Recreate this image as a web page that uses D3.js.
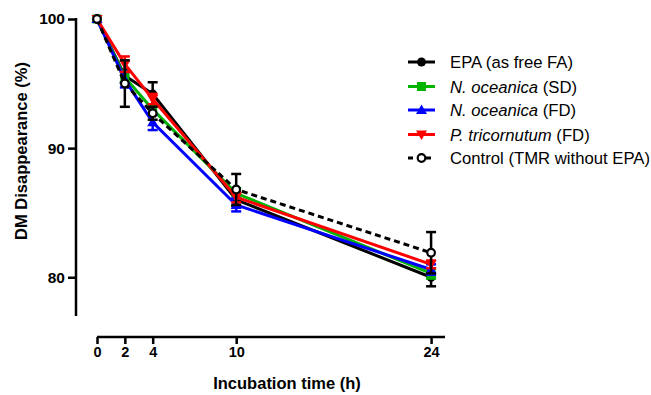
<!DOCTYPE html>
<html><head><meta charset="utf-8">
<script src="https://cdn.jsdelivr.net/npm/d3@7"></script>
<style>body{margin:0;background:#fff}svg{display:block}</style>
</head><body><svg id="c" width="651" height="395"></svg>
<script>
const times = [0, 2, 4, 10, 24];
const xTicks = [0, 2, 4, 10, 24];
const yTicks = [80, 90, 100];
const seriesNames = ["EPA (as free FA)", "N. oceanica (SD)", "N. oceanica (FD)", "P. tricornutum (FD)", "Control (TMR without EPA)"];
const epaMean = [100, 95.6, 94.2, 86.0, 80.0];
const epaErr  = [0, 0.5, 0.9, 0.5, 0.7];
const nocSDMean = [100, 95.5, 93.0, 86.5, 80.3];
const nocSDErr  = [0, 0.4, 0.4, 0.4, 0.4];
const nocFDMean = [100, 95.3, 92.0, 85.6, 80.6];
const nocFDErr  = [0, 0.6, 0.6, 0.5, 0.4];
const ptrMean = [100, 96.5, 93.8, 86.2, 81.0];
const ptrErr  = [0, 0.6, 0.4, 0.4, 0.3];
const ctlMean = [100, 95.0, 92.7, 86.8, 81.9];
const ctlErr  = [0, 1.8, 0.5, 1.2, 1.6];

const svg = d3.select("#c");
const x = d3.scaleLinear().domain([0, 25]).range([97, 445]);
const y = d3.scaleLinear().domain([77, 100]).range([316, 19]);

const series = [
  {name: seriesNames[0], mean: epaMean, err: epaErr, color: "#000", sym: "circle", dash: null, italic: null},
  {name: seriesNames[1], mean: nocSDMean, err: nocSDErr, color: "#00b400", sym: "square", dash: null, italic: "N. oceanica", rest: " (SD)"},
  {name: seriesNames[2], mean: nocFDMean, err: nocFDErr, color: "#0000ff", sym: "triangle", dash: null, italic: "N. oceanica", rest: " (FD)"},
  {name: seriesNames[3], mean: ptrMean, err: ptrErr, color: "#ff0000", sym: "triangleDown", dash: null, italic: "P. tricornutum", rest: " (FD)"},
  {name: seriesNames[4], mean: ctlMean, err: ctlErr, color: "#000", sym: "open", dash: "6,4", italic: null}
];

function drawMarker(g, s, cx, cy) {
  if (s.sym === "circle") {
    g.append("circle").attr("cx", cx).attr("cy", cy).attr("r", 4.5).attr("fill", s.color);
  } else if (s.sym === "square") {
    g.append("rect").attr("x", cx - 4.5).attr("y", cy - 4.5).attr("width", 9).attr("height", 9).attr("fill", s.color);
  } else if (s.sym === "triangle") {
    g.append("path").attr("d", `M${cx},${cy-5.5}L${cx+5.5},${cy+4}L${cx-5.5},${cy+4}Z`).attr("fill", s.color);
  } else if (s.sym === "triangleDown") {
    g.append("path").attr("d", `M${cx},${cy+5.5}L${cx+5.5},${cy-4}L${cx-5.5},${cy-4}Z`).attr("fill", s.color);
  } else {
    g.append("circle").attr("cx", cx).attr("cy", cy).attr("r", 3.8).attr("fill", "#fff").attr("stroke", "#000").attr("stroke-width", 2.2);
  }
}

// axes
const yAxis = svg.append("g").attr("transform", "translate(76,0)")
  .call(d3.axisLeft(y).tickValues(yTicks).tickSize(8).tickSizeOuter(0).tickPadding(3));
const xAxis = svg.append("g").attr("transform", "translate(0,337)")
  .call(d3.axisBottom(x).tickValues(xTicks).tickSize(7).tickSizeOuter(0).tickPadding(3));
[yAxis, xAxis].forEach(a => {
  a.selectAll("path,line").attr("stroke", "#000").attr("stroke-width", 2.5);
  a.selectAll("text").attr("fill", "#000").style("font-family", "Liberation Sans, Arial, sans-serif").style("font-weight", "bold");
});
yAxis.selectAll("text").style("font-size", "15.5px");
xAxis.selectAll("text").style("font-size", "14.5px");

yAxis.select("path.domain").attr("d", `M0,${y(100)-1}V${y(77)}`);
xAxis.select("path.domain").attr("d", `M${x(0)},0H${x(25)}`);

svg.append("text").attr("x", 287).attr("y", 389).attr("text-anchor", "middle")
  .style("font-family", "Liberation Sans, Arial, sans-serif").style("font-weight", "bold").style("font-size", "16.5px")
  .text("Incubation time (h)");
svg.append("text").attr("transform", "translate(27,151) rotate(-90)").attr("text-anchor", "middle")
  .style("font-family", "Liberation Sans, Arial, sans-serif").style("font-weight", "bold").style("font-size", "16.5px")
  .text("DM Disappearance (%)");

// lines
const line = d3.line().x((d, i) => x(times[i])).y(d => y(d));
const plot = svg.append("g");
series.forEach(s => {
  const g = plot.append("g");
  g.append("path").attr("d", line(s.mean)).attr("fill", "none").attr("stroke", s.color)
    .attr("stroke-width", 3).attr("stroke-dasharray", s.dash);
  s.mean.forEach((m, i) => {
    if (s.err[i] > 0) {
      const cx = x(times[i]);
      g.append("line").attr("x1", cx).attr("x2", cx).attr("y1", y(m - s.err[i])).attr("y2", y(m + s.err[i])).attr("stroke", s.color).attr("stroke-width", 2.5);
      [m - s.err[i], m + s.err[i]].forEach(v => {
        g.append("line").attr("x1", cx - 5).attr("x2", cx + 5).attr("y1", y(v)).attr("y2", y(v)).attr("stroke", s.color).attr("stroke-width", 2.5);
      });
    }
  });
  s.mean.forEach((m, i) => drawMarker(g, s, x(times[i]), y(m)));
});

// legend
const legY = [62, 86.5, 110, 134.5, 158];
series.forEach((s, i) => {
  const g = svg.append("g");
  const cy = legY[i];
  g.append("line").attr("x1", 408).attr("x2", 435).attr("y1", cy).attr("y2", cy).attr("stroke", s.color)
    .attr("stroke-width", 3).attr("stroke-dasharray", s.dash ? "5,4" : null);
  drawMarker(g, s, 421.5, cy);
  const t = g.append("text").attr("x", 450).attr("y", cy + 6)
    .style("font-family", "Liberation Sans, Arial, sans-serif").style("font-size", "16.7px").attr("fill", "#000");
  if (s.italic) {
    t.append("tspan").style("font-style", "italic").text(s.italic);
    t.append("tspan").text(s.rest);
  } else {
    t.text(s.name);
  }
});
</script></body></html>
